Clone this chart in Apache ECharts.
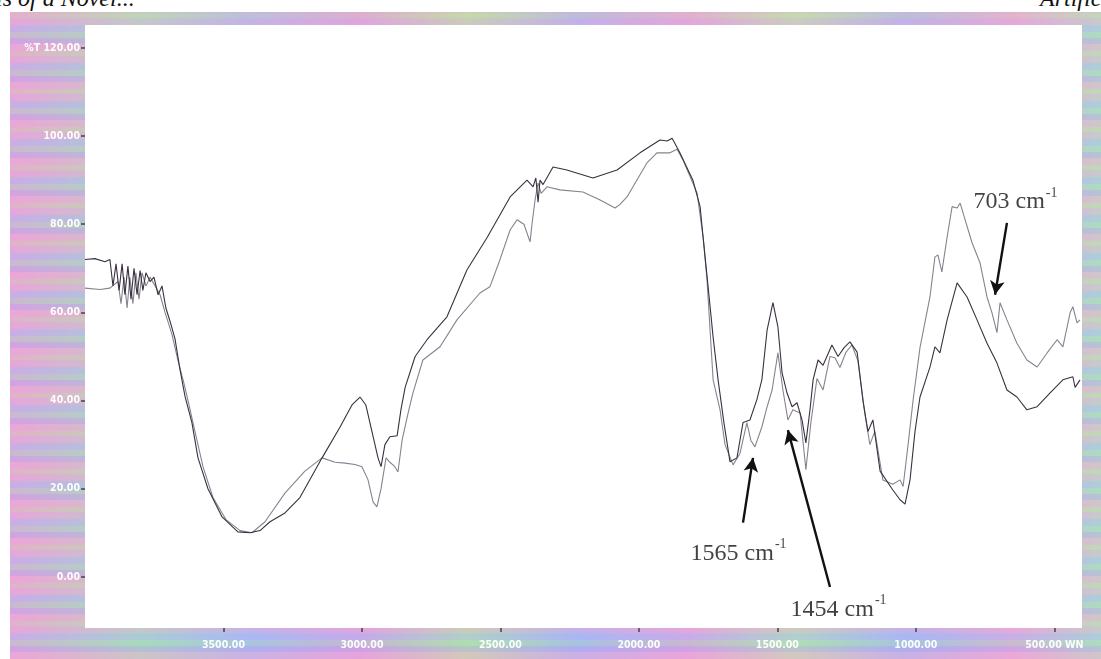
<!DOCTYPE html>
<html>
<head>
<meta charset="utf-8">
<script src="https://cdn.jsdelivr.net/npm/echarts@6/dist/echarts.min.js"></script>
<style>
html,body{margin:0;padding:0;background:#fff;overflow:hidden;}
#wrap{position:relative;width:1101px;height:659px;overflow:hidden;background:#fff;}
#frame{position:absolute;left:10px;top:12px;width:1091px;height:647px;
 background:
  repeating-linear-gradient(0deg, rgba(255,170,215,0.40) 0 7px, rgba(190,165,240,0.40) 7px 13px, rgba(165,225,195,0.36) 13px 19px, rgba(170,190,250,0.40) 19px 26px, rgba(240,175,220,0.36) 26px 33px, rgba(225,215,165,0.32) 33px 38px),
  linear-gradient(90deg, #dfa2d8 0%, #a9d6bc 12%, #a9b6ee 22%, #d69ede 32%, #b4dca8 42%, #a8b2f0 52%, #dca0dc 62%, #b6dcb0 72%, #a6b4ee 82%, #dea6d8 92%, #b0d8c2 100%);}
#top1{position:absolute;left:-4px;top:-15px;font:italic 24px "Liberation Serif",serif;color:#111;white-space:nowrap;}
#top2{position:absolute;left:1040px;top:-15px;font:italic 24px "Liberation Serif",serif;color:#111;white-space:nowrap;}
#chart{position:absolute;left:0;top:0;width:1101px;height:659px;}
</style>
</head>
<body>
<div id="wrap">
<div id="frame"></div>
<div id="top1">ls of a Novel...</div>
<div id="top2">Artificial</div>
<div id="chart"></div>
</div>
<script>
// Tick labels
const xTicks = [3500, 3000, 2500, 2000, 1500, 1000, 500];
const yTicks = [0, 20, 40, 60, 80, 100, 120];

// Spectrum A (darker trace): wavenumber (cm-1) and %T
const wnA = [4000,3964,3928,3910,3899,3888,3877,3866,3856,3845,3834,3823,3812,3801,3791,3780,3765,3751,3736,3722,3708,3693,3675,3657,3639,3614,3592,3556,3505,3448,3404,3368,3332,3278,3224,3144,3079,3036,3007,2986,2964,2942,2931,2917,2899,2873,2859,2844,2808,2765,2693,2621,2548,2465,2404,2382,2372,2364,2357,2346,2310,2260,2166,2079,1996,1924,1898,1880,1852,1805,1779,1768,1750,1732,1714,1693,1671,1646,1624,1599,1574,1556,1537,1516,1498,1483,1465,1447,1429,1411,1397,1382,1371,1353,1335,1303,1281,1259,1238,1212,1191,1173,1155,1129,1083,1057,1039,1021,1003,985,949,931,913,887,851,815,779,743,707,671,635,599,562,516,469,433,425,407];
const tA  = [72.0,72.2,71.5,72.0,66.0,71.0,65.0,71.0,64.0,70.5,63.0,70.0,64.0,69.5,65.0,69.0,67.0,68.0,64.0,66.0,61.0,58.0,54.0,47.0,41.0,35.0,27.0,20.0,13.6,10.2,10.0,10.5,12.5,14.5,18.0,27.0,34.0,39.0,40.8,39.0,33.0,27.0,25.0,30.0,31.8,32.0,38.0,43.0,50.0,53.8,59.0,69.6,77.0,86.2,90.0,88.5,90.5,85.0,90.0,89.0,93.0,92.3,90.5,92.3,96.2,99.1,98.9,99.5,96.2,90.0,84.0,77.0,65.8,54.4,44.7,35.0,26.1,27.0,35.0,35.6,40.2,44.7,56.0,62.2,56.7,46.3,41.7,38.6,39.5,35.6,30.4,38.0,44.7,49.2,48.0,52.6,50.0,52.0,53.3,51.0,40.0,33.0,35.6,24.0,19.7,17.5,16.5,22.0,33.0,40.8,47.6,52.2,50.8,58.3,66.7,63.5,58.3,53.0,48.5,42.4,40.8,37.9,38.6,41.7,44.7,45.4,43.0,44.7];

// Spectrum B (lighter trace)
const wnB = [4000,3946,3910,3881,3870,3859,3848,3838,3827,3816,3805,3794,3780,3765,3747,3729,3711,3686,3664,3643,3628,3603,3574,3538,3491,3440,3397,3350,3278,3206,3144,3097,3061,3025,3000,2978,2960,2946,2931,2913,2899,2881,2870,2855,2834,2816,2780,2718,2657,2574,2538,2502,2465,2440,2415,2393,2386,2375,2364,2353,2332,2285,2202,2140,2086,2068,2043,1971,1935,1888,1862,1841,1790,1768,1754,1743,1732,1707,1689,1660,1635,1610,1596,1581,1556,1537,1519,1498,1480,1462,1444,1418,1397,1379,1357,1335,1310,1292,1274,1252,1231,1209,1184,1166,1148,1119,1083,1057,1046,1028,1010,985,949,931,920,906,887,869,851,840,822,797,768,743,725,707,696,671,635,599,562,526,490,469,443,433,418,407];
const tB  = [65.5,65.2,65.5,67.0,62.0,68.0,61.0,68.0,62.0,69.0,63.0,69.0,66.0,68.0,66.0,64.0,60.0,55.0,49.0,44.0,40.0,33.0,25.0,18.0,13.0,10.5,10.0,12.5,19.0,24.0,27.0,26.0,25.8,25.5,25.0,22.0,17.0,15.9,20.0,27.0,26.0,25.0,23.8,31.0,37.0,41.7,49.2,52.2,58.3,64.4,65.8,71.9,78.7,81.0,80.0,76.0,80.0,85.5,89.4,87.0,88.5,87.8,87.3,85.5,83.7,84.5,86.2,93.9,96.2,96.2,97.0,94.6,87.1,77.0,67.4,56.0,44.7,37.9,30.0,25.4,28.0,35.0,31.0,29.5,34.0,38.6,42.4,50.8,42.4,35.6,37.9,37.2,24.3,35.0,45.0,42.4,50.0,49.7,47.5,51.0,52.6,49.0,37.0,30.0,33.0,22.0,21.0,22.0,20.5,30.0,40.0,52.0,63.5,72.6,73.0,69.2,77.1,84.0,83.7,84.8,81.0,75.8,71.2,63.5,59.9,55.4,62.2,58.3,53.0,49.2,47.6,50.8,53.8,52.2,59.9,61.3,57.6,58.3];

// Peak annotations: label, label position [wn, %T], arrow tail [wn, %T], arrow tip [wn, %T]
const annLabels = ['703', '1565', '1454'];
const annText = [[640, 85.5], [1640, 5.7], [1279, -7.0]];
const annTail = [[671, 80.3], [1624, 12.3], [1310, -2.3]];
const annTip  = [[714, 64.0], [1588, 27.0], [1462, 33.3]];

const zip = (xs, ys) => xs.map((x, i) => [x, ys[i]]);

const chart = echarts.init(document.getElementById('chart'), null, {renderer: 'canvas'});
const labelStyle = {color: 'rgba(255,255,255,0.95)', fontFamily: 'DejaVu Sans Condensed', fontWeight: 'bold', fontSize: 10.5};

chart.setOption({
  animation: false,
  backgroundColor: 'transparent',
  grid: {left: 85, right: 19, top: 25, bottom: 31, show: true, backgroundColor: '#ffffff', borderWidth: 0},
  xAxis: {
    type: 'value', min: 400, max: 4000, inverse: true,
    axisLine: {show: false, onZero: false},
    splitLine: {show: false},
    axisTick: {show: true, inside: false, length: 4, lineStyle: {color: '#444', width: 1.5}, customValues: xTicks},
    axisLabel: Object.assign({margin: 12, customValues: xTicks,
      formatter: v => v === 500 ? '500.00 WN' : v.toFixed(2)}, labelStyle)
  },
  yAxis: {
    type: 'value', min: -11.6, max: 125.2,
    axisLine: {show: false, onZero: false},
    splitLine: {show: false},
    axisTick: {show: true, inside: false, length: 4, lineStyle: {color: '#444', width: 1.5}, customValues: yTicks},
    axisLabel: Object.assign({margin: 5, customValues: yTicks,
      formatter: v => v === 120 ? '%T 120.00' : v.toFixed(2)}, labelStyle)
  },
  series: [
    {
      name: 'A', type: 'line', data: zip(wnA, tA), showSymbol: false, symbol: 'none',
      lineStyle: {color: '#3b3040', width: 1.1}, z: 3
    },
    {
      name: 'B', type: 'line', data: zip(wnB, tB), showSymbol: false, symbol: 'none',
      lineStyle: {color: '#85838f', width: 1.1}, z: 2,
      markLine: {
        silent: true, symbol: ['none', 'arrow'], symbolSize: [11, 14],
        lineStyle: {color: '#111', width: 2.4, type: 'solid'},
        label: {show: false},
        data: annTail.map((t, i) => [{coord: t}, {coord: annTip[i]}])
      }
    },
    {
      name: 'labels', type: 'scatter', symbolSize: 0, z: 5,
      data: annText.map((p, i) => [p[0], p[1], annLabels[i]]),
      label: {
        show: true, position: 'inside',
        formatter: p => '{a|' + p.data[2] + ' cm}{s|-1}',
        rich: {
          a: {fontFamily: 'Liberation Serif', fontSize: 24, color: '#111', verticalAlign: 'bottom', lineHeight: 28},
          s: {fontFamily: 'Liberation Serif', fontSize: 14, color: '#111', verticalAlign: 'top', lineHeight: 28, padding: [0, 0, 13, 1]}
        }
      }
    }
  ]
});
</script>
</body>
</html>
